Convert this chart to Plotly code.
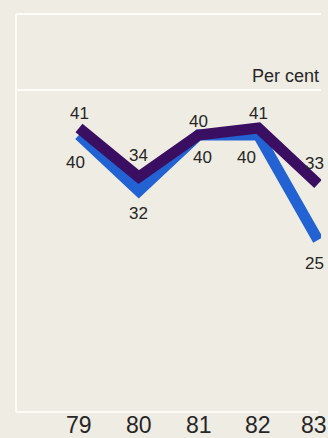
import plotly.graph_objects as go

# Years and the two percentage series
years = [79, 80, 81, 82, 83]
tick_text = ["79", "80", "81", "82", "83"]
series_a = [41, 34, 40, 41, 33]   # dark purple line
series_b = [40, 32, 40, 40, 25]   # blue line

PURPLE = "#3a0f62"
BLUE = "#2262d2"
BG = "#efece3"
RULE = "#fcfbf6"
TEXT = "#262626"
FONT = "Liberation Sans Narrow, Liberation Sans, Arial, sans-serif"

W, H = 328, 438
left, right, top, bottom = 16, 7, 14, 26
plot_w = W - left - right
plot_h = H - top - bottom
px_per_unit = 7.0
y_min = 3 / px_per_unit
y_max = y_min + plot_h / px_per_unit

x_left = 79 - (79 - left) / 59.75
x_right = 83 + (W - right - 318) / 59.75


def py(pix):
    return (H - bottom - pix) / plot_h


def px(pix):
    return (pix - left) / plot_w


fig = go.Figure()
fig.add_trace(go.Scatter(x=years, y=series_b, mode="lines",
                         line=dict(color=BLUE, width=11), hoverinfo="skip"))
fig.add_trace(go.Scatter(x=years, y=series_a, mode="lines",
                         line=dict(color=PURPLE, width=11), hoverinfo="skip"))

# value labels: (series, index, xshift, yshift)
label_specs = [
    (series_a, 0, 0, 15), (series_a, 1, 0, 22), (series_a, 2, 0, 14),
    (series_a, 3, 0, 15), (series_a, 4, -4, 21),
    (series_b, 0, -4, -27), (series_b, 1, 0, -22), (series_b, 2, 4, -22),
    (series_b, 3, -12, -22), (series_b, 4, -4, -23),
]
for ser, i, dx, dy in label_specs:
    fig.add_annotation(x=years[i], y=ser[i], text=str(ser[i]), showarrow=False,
                       xshift=dx, yshift=dy,
                       font=dict(family=FONT, size=17, color=TEXT))

# year labels along the bottom
for yr, txt in zip(years, tick_text):
    fig.add_annotation(x=yr, xref="x", yref="paper", y=py(425), yanchor="middle",
                       text=txt, showarrow=False, xshift=-4 if yr == 83 else 0,
                       font=dict(family=FONT, size=23, color=TEXT))

# unit header
fig.add_annotation(xref="paper", yref="paper", x=px(321), y=py(76),
                   xanchor="right", yanchor="middle", text="Per cent", showarrow=False,
                   font=dict(family=FONT, size=18, color=TEXT))

# panel rules
shapes = [
    dict(type="line", xref="paper", yref="paper", x0=px(16), x1=px(321), y0=py(14), y1=py(14)),
    dict(type="line", xref="paper", yref="paper", x0=px(16), x1=px(321), y0=py(90), y1=py(90)),
    dict(type="line", xref="paper", yref="paper", x0=px(16), x1=px(318), y0=py(412), y1=py(412)),
    dict(type="line", xref="paper", yref="paper", x0=px(16), x1=px(16), y0=py(14), y1=py(412)),
]
for s in shapes:
    s["line"] = dict(color=RULE, width=2)
    s["layer"] = "below"
fig.update_layout(shapes=shapes)

fig.update_layout(
    width=W, height=H,
    margin=dict(l=left, r=right, t=top, b=bottom),
    paper_bgcolor=BG, plot_bgcolor=BG,
    showlegend=False,
    xaxis=dict(range=[x_left, x_right], showticklabels=False,
               showgrid=False, zeroline=False, showline=False, ticks=""),
    yaxis=dict(range=[y_min, y_max], visible=False, showgrid=False, zeroline=False),
)

fig.write_html("out.html")
